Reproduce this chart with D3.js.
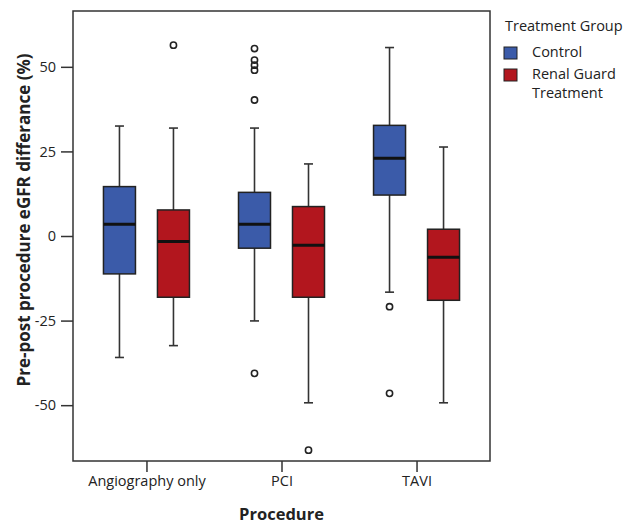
<!DOCTYPE html>
<html>
<head>
<meta charset="utf-8">
<script src="https://cdn.jsdelivr.net/npm/d3@7"></script>
<style>
  body { margin: 0; background: #fff; }
  svg { display: block; }
  text { font-family: "Open Sans", "Noto Sans", sans-serif; fill: #222; }
</style>
</head>
<body>
<svg id="chart" width="637" height="527"></svg>
<script>
// ---- data ----
const procedures = ["Angiography only", "PCI", "TAVI"];
const groups = ["Control", "Renal Guard Treatment"];
const groupColors = ["#3b5ba9", "#b2161e"];
const yTicks = [-50, -25, 0, 25, 50];

// per procedure, per group: [whiskerLow, q1, median, q3, whiskerHigh]
const controlStats = [
  [-35.9, -11.2, 3.5, 14.6, 32.5],
  [-25.1, -3.6, 3.5, 12.9, 31.9],
  [-16.6, 12.1, 23.0, 32.7, 55.7]
];
const renalStats = [
  [-32.4, -18.1, -1.6, 7.7, 31.9],
  [-49.3, -18.1, -2.7, 8.7, 21.3],
  [-49.3, -19.0, -6.3, 2.0, 26.3]
];
const controlOutliers = [
  [],
  [55.4, 52.0, 50.5, 49.0, 40.2, -40.6],
  [-20.9, -46.5]
];
const renalOutliers = [
  [56.4],
  [-63.3],
  []
];

const svg = d3.select("#chart");
const L = 73, R = 490, T = 11, B = 461;

const y = d3.scaleLinear().domain([-66.5, 66.5]).range([B, T]);
const x = d3.scalePoint().domain(procedures).range([L, R]).padding(0.544);
const xSub = d3.scaleBand().domain(groups).range([-43, 43]).paddingInner(0.4074).paddingOuter(0);

const statsByGroup = [controlStats, renalStats];
const outByGroup = [controlOutliers, renalOutliers];

const boxes = [];
groups.forEach((g, gi) => {
  procedures.forEach((p, pi) => {
    const s = statsByGroup[gi][pi];
    boxes.push({ p, g, gi, lo: s[0], q1: s[1], med: s[2], q3: s[3], hi: s[4], out: outByGroup[gi][pi] });
  });
});

const bw = xSub.bandwidth();
const capW = 9;
const plot = svg.append("g");

const bx = d => x(d.p) + xSub(d.g);
const cx = d => bx(d) + bw / 2;

const bg = plot.selectAll("g.box").data(boxes).join("g").attr("class", "box");
bg.append("line")
  .attr("x1", cx).attr("x2", cx)
  .attr("y1", d => y(d.hi)).attr("y2", d => y(d.lo))
  .attr("stroke", "#333").attr("stroke-width", 1.6);
bg.append("line")
  .attr("x1", d => cx(d) - capW / 2).attr("x2", d => cx(d) + capW / 2)
  .attr("y1", d => y(d.hi)).attr("y2", d => y(d.hi))
  .attr("stroke", "#333").attr("stroke-width", 1.6);
bg.append("line")
  .attr("x1", d => cx(d) - capW / 2).attr("x2", d => cx(d) + capW / 2)
  .attr("y1", d => y(d.lo)).attr("y2", d => y(d.lo))
  .attr("stroke", "#333").attr("stroke-width", 1.6);
bg.append("rect")
  .attr("x", bx).attr("width", bw)
  .attr("y", d => y(d.q3)).attr("height", d => y(d.q1) - y(d.q3))
  .attr("fill", d => groupColors[d.gi])
  .attr("stroke", "#222").attr("stroke-width", 1.5);
bg.append("line")
  .attr("x1", bx).attr("x2", d => bx(d) + bw)
  .attr("y1", d => y(d.med)).attr("y2", d => y(d.med))
  .attr("stroke", "#111").attr("stroke-width", 3);
bg.each(function(d) {
  d3.select(this).selectAll("circle").data(d.out).join("circle")
    .attr("cx", cx(d)).attr("cy", v => y(v)).attr("r", 3.1)
    .attr("fill", "none").attr("stroke", "#222").attr("stroke-width", 1.6);
});

// frame
svg.append("rect")
  .attr("x", L).attr("y", T).attr("width", R - L).attr("height", B - T)
  .attr("fill", "none").attr("stroke", "#333").attr("stroke-width", 1.5);

// axes
const yAxis = svg.append("g").attr("transform", `translate(${L},0)`)
  .call(d3.axisLeft(y).tickValues(yTicks).tickFormat(d => String(d)).tickSize(12).tickSizeOuter(0).tickPadding(5));
yAxis.select(".domain").remove();
yAxis.selectAll(".tick line").attr("stroke", "#333").attr("stroke-width", 1.5);
yAxis.selectAll(".tick text").attr("font-size", 14.5).attr("fill", "#222")
  .style("font-family", '"Open Sans", sans-serif');

const xAxis = svg.append("g").attr("transform", `translate(0,${B})`)
  .call(d3.axisBottom(x).tickSize(11).tickSizeOuter(0).tickPadding(4));
xAxis.select(".domain").remove();
xAxis.selectAll(".tick line").attr("stroke", "#333").attr("stroke-width", 1.5);
xAxis.selectAll(".tick text").attr("font-size", 14.5).attr("fill", "#222")
  .style("font-family", '"Open Sans", sans-serif');

// axis titles
svg.append("text")
  .attr("transform", "translate(30,220) rotate(-90)")
  .attr("text-anchor", "middle").attr("font-size", 17).attr("font-weight", "bold")
  .text("Pre-post procedure eGFR differance (%)");
svg.append("text")
  .attr("x", (L + R) / 2).attr("y", 520)
  .attr("text-anchor", "middle").attr("font-size", 16.5).attr("font-weight", "bold")
  .text("Procedure");

// legend
const lg = svg.append("g");
lg.append("text").attr("x", 505).attr("y", 31).attr("font-size", 14.5).text("Treatment Group");
const legendLabels = [["Control"], ["Renal Guard", "Treatment"]];
const legendY = [47, 69];
groups.forEach((g, i) => {
  lg.append("rect").attr("x", 504).attr("y", legendY[i]).attr("width", 13).attr("height", 12)
    .attr("fill", groupColors[i]).attr("stroke", "#222").attr("stroke-width", 1);
  legendLabels[i].forEach((t, j) => {
    lg.append("text").attr("x", 532).attr("y", legendY[i] + 10 + j * 19)
      .attr("font-size", 14.5).text(t);
  });
});
</script>
</body>
</html>
